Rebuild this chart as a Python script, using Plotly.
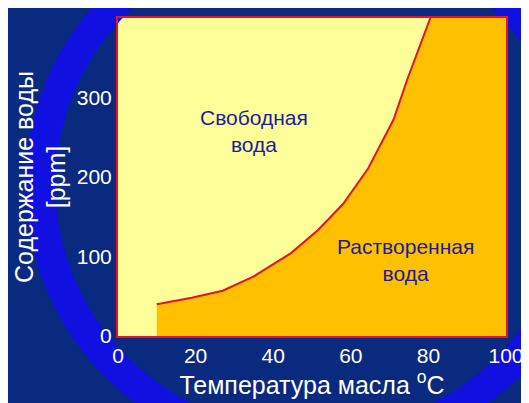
import plotly.graph_objects as go

temp = [10, 19, 27, 35, 44.5, 51.5, 58, 64.5, 71, 74.5, 80.5]
water = [40, 48, 57, 75, 104, 133, 166, 211, 272, 322, 400]

fig = go.Figure()
fig.add_trace(go.Scatter(x=temp + [100, 100, 10], y=water + [400, 0, 0], fill='toself',
                         fillcolor='#FFC000', line=dict(width=0), mode='lines', hoverinfo='skip'))
fig.add_trace(go.Scatter(x=temp, y=water, mode='lines', line=dict(color='#E8102A', width=2)))

fig.add_annotation(x=35, y=258, text="Свободная<br>вода", showarrow=False,
                   font=dict(family="Liberation Sans, Arial", size=21, color='#1C1C9C'))
fig.add_annotation(x=74, y=95, text="Растворенная<br>вода", showarrow=False,
                   font=dict(family="Liberation Sans, Arial", size=21, color='#1C1C9C'))

fig.add_shape(type='circle', xref='paper', yref='paper', x0=-0.2, x1=1.2, y0=-0.35, y1=1.3,
              line=dict(color='#1010E0', width=30), layer='below')

fig.update_layout(
    width=529, height=403, showlegend=False,
    margin=dict(l=110, r=31, t=10, b=75, autoexpand=False),
    paper_bgcolor='#0A2A80', plot_bgcolor='#FFFF99',
    font=dict(family="Liberation Sans, Arial", size=21, color='white'),
    xaxis=dict(range=[0, 100], tickvals=[0, 20, 40, 60, 80, 100], showgrid=False, zeroline=False,
               showline=True, linecolor='#E8102A', linewidth=2, mirror=True, ticks='', automargin=False,
               title=dict(text="Температура масла <sup>o</sup>C", standoff=6)),
    yaxis=dict(range=[0, 400], tickvals=[0, 100, 200, 300, 400], showgrid=False, zeroline=False,
               showline=True, linecolor='#E8102A', linewidth=2, mirror=True, ticks='', automargin=False,
               title=dict(text="Содержание воды<br>[ppm]", standoff=4)),
)
fig.write_html("out.html")
